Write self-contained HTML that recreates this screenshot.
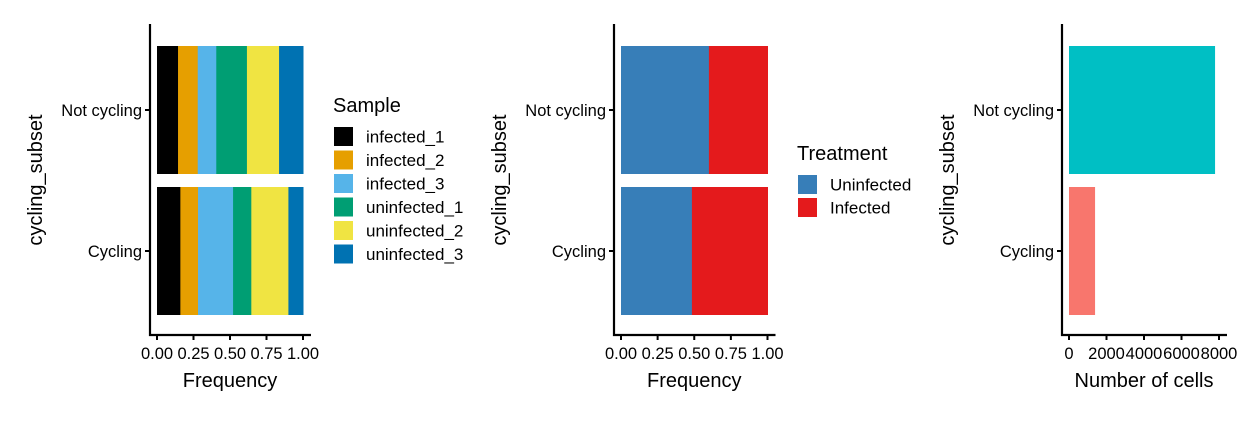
<!DOCTYPE html>
<html><head><meta charset="utf-8"><style>
body{margin:0;background:#fff}
svg text{font-family:"Liberation Sans",Arial,sans-serif;fill:#000}
</style></head><body>
<svg id="c" width="1248" height="416" xmlns="http://www.w3.org/2000/svg"></svg>
<script>
const categories=["Not cycling","Cycling"];
const sampleNames=["infected_1","infected_2","infected_3","uninfected_1","uninfected_2","uninfected_3"];
const sampleColors=["#000000","#E69F00","#56B4E9","#009E73","#F0E442","#0072B2"];
const sampleNotCycling=[0.144,0.135,0.127,0.210,0.220,0.164];
const sampleCycling=[0.160,0.121,0.240,0.125,0.254,0.100];
const treatNames=["Uninfected","Infected"];
const treatColors=["#377EB8","#E41A1C"];
const treatNotCycling=[0.60,0.40];
const treatCycling=[0.484,0.516];
const cellCounts=[7790,1390];
const cellColors=["#00BFC4","#F8766D"];
const freqTicks=["0.00","0.25","0.50","0.75","1.00"];
const countTicks=[0,2000,4000,6000,8000];

const svg=document.getElementById('c');
const NS="http://www.w3.org/2000/svg";
function el(tag,attrs,parent){const e=document.createElementNS(NS,tag);for(const k in attrs)e.setAttribute(k,attrs[k]);(parent||svg).appendChild(e);return e;}
function txt(s,attrs,parent){const e=el('text',attrs,parent);e.textContent=s;return e;}
const yCenter=[110,251];const barH=128;
function yTop(i){return yCenter[i]-barH/2;}

function panel(name,axX,x0,scale,ticks,tickVal,xTitle){
  const g=el('g',{});
  
  
  const ax=el('path',{d:`M${axX} 24V335H${scale(tickVal[tickVal.length-1])+8}`,stroke:'#000','stroke-width':2.2,fill:'none'},g);
  
  
  categories.forEach((c,i)=>{
    el('line',{x1:axX-5,x2:axX,y1:yCenter[i],y2:yCenter[i],stroke:'#000','stroke-width':2},g);
    const t=txt(c,{x:axX-8,y:yCenter[i]+6,'text-anchor':'end','font-size':16.5},g);
    
    
  });
  ticks.forEach((s,i)=>{
    const x=scale(tickVal[i]);
    el('line',{x1:x,x2:x,y1:335,y2:340,stroke:'#000','stroke-width':2},g);
    const t=txt(s,{x:x,y:359,'text-anchor':'middle','font-size':16.5},g);
    
    
  });
  const xt=txt(xTitle,{x:(x0+scale(tickVal[tickVal.length-1]))/2,y:387,'text-anchor':'middle','font-size':20},g);
  
  
  const yt=txt('cycling_subset',{x:0,y:0,'text-anchor':'middle','font-size':20,transform:`translate(${axX-108},180) rotate(-90)`},g);
  
  
  return g;
}
function stack(g,x0,w,rows,colors,names){
  rows.forEach((vals,i)=>{
    let acc=0;
    vals.forEach((v,j)=>{
      const r=el('rect',{x:x0+acc*w,y:yTop(i),width:v*w+0.5,height:barH,fill:colors[j]},g);
      
      
      acc+=v;
    });
  });
}
function legend(x,y,title,names,colors,step,name){
  const g=el('g',{});
  
  
  txt(title,{x:x,y:y,'font-size':20},g);
  names.forEach((n,i)=>{
    const yy=y+15+i*step;
    const r=el('rect',{x:x+1,y:yy,width:19,height:19,fill:colors[i]},g);
    
    
    const t=txt(n,{x:x+33,y:yy+15.5,'font-size':17},g);
    
    
  });
}
// panel 1
const s1=v=>157+v*146;
const g1=panel('sample-panel',150,157,s1,freqTicks,[0,0.25,0.5,0.75,1],'Frequency');
stack(g1,157,146,[sampleNotCycling,sampleCycling],sampleColors,sampleNames);
legend(333,112,'Sample',sampleNames,sampleColors,23.5,'sample-legend');
// panel 2
const s2=v=>621+v*146.5;
const g2=panel('treatment-panel',614,621,s2,freqTicks,[0,0.25,0.5,0.75,1],'Frequency');
stack(g2,621,146.5,[treatNotCycling,treatCycling],treatColors,treatNames);
legend(797,160,'Treatment',treatNames,treatColors,23,'treatment-legend');
// panel 3
const s3=v=>1069+v*150/8000;
const g3=panel('count-panel',1062,1069,s3,countTicks.map(String),countTicks,'Number of cells');
cellCounts.forEach((v,i)=>{
  const r=el('rect',{x:1069,y:yTop(i),width:s3(v)-1069,height:barH,fill:cellColors[i]},g3);
  
  
});
</script>
</body></html>
